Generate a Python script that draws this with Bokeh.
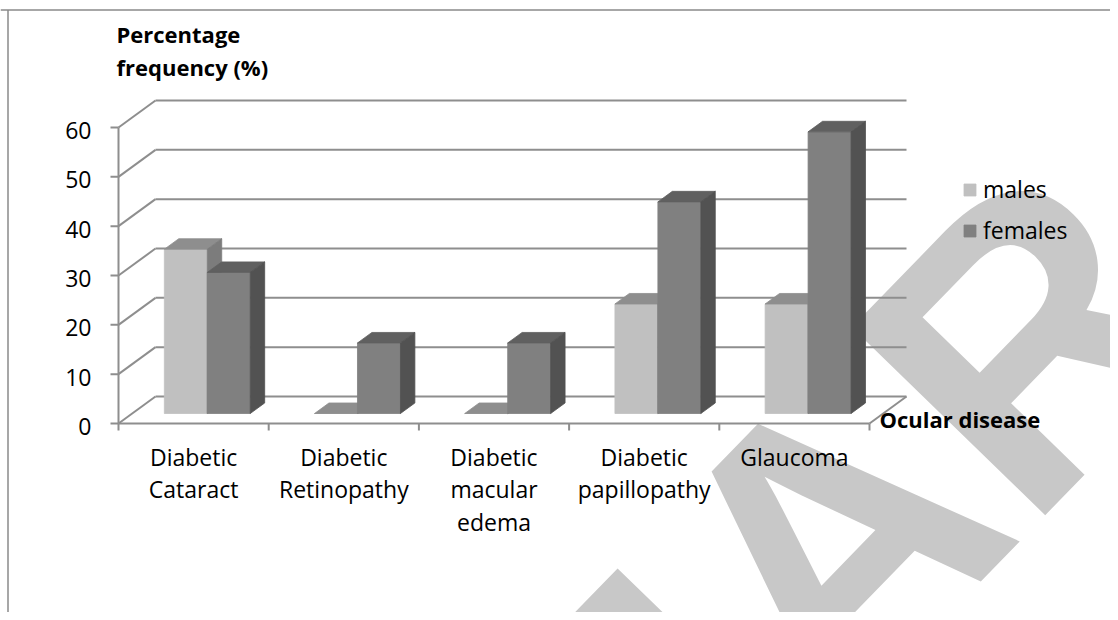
from bokeh.plotting import figure
from bokeh.models import Range1d, Legend, LegendItem, ColumnDataSource
from bokeh.embed import file_html
from bokeh.resources import INLINE
from bokeh.core.properties import value

# ---------------- data ----------------
categories = ["Diabetic\nCataract", "Diabetic\nRetinopathy", "Diabetic\nmacular\nedema",
              "Diabetic\npapillopathy", "Glaucoma"]
males = [33.3, 0, 0, 22.2, 22.2]
females = [28.6, 14.3, 14.3, 42.9, 57.1]
series_names = ["males", "females"]
y_ticks = [0, 10, 20, 30, 40, 50, 60]
y_tick_labels = [str(t) for t in y_ticks]
y_title = "Percentage\nfrequency (%)"
x_title = "Ocular disease"
watermark = "IJAR"

# ---------------- layout constants ----------------
W, H = 1110, 612
ORIG_PX, ORIG_PY = 118, 423        # px of front-left floor corner
CAT_PX = 150.2                     # px per category
VAL_PX = 4.933                     # px per value unit
DX = 37 / CAT_PX                   # full depth offset (data units)
DY = 27 / VAL_PX
D0, D1 = 0.37, 0.76                # bar depth span (fraction of full depth)
BW = 0.286                         # bar width (category units)
GRID = "#8e8e8e"
FONT = "Open Sans"


def px_x(px):
    return (px - ORIG_PX) / CAT_PX


def px_y(py):
    return (ORIG_PY - py) / VAL_PX


p = figure(width=W, height=H, output_backend="svg", toolbar_location=None,
           x_range=Range1d(px_x(0), px_x(W)),
           y_range=Range1d(px_y(H), px_y(0)),
           x_axis_location=None, y_axis_location=None, min_border=0)
p.grid.visible = False
p.outline_line_color = None
p.background_fill_color = "white"

# watermark (behind everything)
p.text(x=[px_x(815)], y=[px_y(556)], text=[watermark], angle=0.80,
       text_font=value("Liberation Sans"), text_font_style="bold",
       text_font_size="392px", text_color="#c8c8c8",
       text_align="center", text_baseline="middle")

# chart-area border (top and left visible)
p.segment(x0=[px_x(0), px_x(7.5)], y0=[px_y(9.5), px_y(9.5)],
          x1=[px_x(W), px_x(7.5)], y1=[px_y(9.5), px_y(H)],
          line_color="#8a8a8a", line_width=1.5)

n = len(categories)
# back wall gridlines
p.segment(x0=[DX] * len(y_ticks), y0=[t + DY for t in y_ticks],
          x1=[n + DX] * len(y_ticks), y1=[t + DY for t in y_ticks],
          line_color=GRID, line_width=2)
# side wall gridlines
p.segment(x0=[0] * len(y_ticks), y0=y_ticks, x1=[DX] * len(y_ticks),
          y1=[t + DY for t in y_ticks], line_color=GRID, line_width=2)
# floor right edge
p.segment(x0=[n], y0=[0], x1=[n + DX], y1=[DY], line_color=GRID, line_width=2)
# axes
p.segment(x0=[0, 0], y0=[0, 0], x1=[n, 0], y1=[0, y_ticks[-1]], line_color=GRID, line_width=2)
p.segment(x0=[0] * len(y_ticks), y0=y_ticks, x1=[-8 / CAT_PX] * len(y_ticks), y1=y_ticks,
          line_color=GRID, line_width=2)
p.segment(x0=list(range(n + 1)), y0=[0] * (n + 1), x1=list(range(n + 1)),
          y1=[-7 / VAL_PX] * (n + 1), line_color=GRID, line_width=2)


def bar_sources(vals, offset):
    fx0, fx1, fb, ft = [], [], [], []
    txs, tys, sxs, sys_ = [], [], [], []
    for i, v in enumerate(vals):
        x0 = i + 0.5 + offset
        x1 = x0 + BW
        fx0.append(x0 + D0 * DX); fx1.append(x1 + D0 * DX)
        fb.append(D0 * DY); ft.append(v + D0 * DY)
        txs.append([x0 + D0 * DX, x1 + D0 * DX, x1 + D1 * DX, x0 + D1 * DX])
        tys.append([v + D0 * DY, v + D0 * DY, v + D1 * DY, v + D1 * DY])
        sxs.append([x1 + D0 * DX, x1 + D1 * DX, x1 + D1 * DX, x1 + D0 * DX])
        sys_.append([D0 * DY, D1 * DY, v + D1 * DY, v + D0 * DY])
    return (ColumnDataSource(dict(left=fx0, right=fx1, bottom=fb, top=ft)),
            ColumnDataSource(dict(xs=txs, ys=tys)),
            ColumnDataSource(dict(xs=sxs, ys=sys_)))


styles = [("#c0c0c0", "#8e8e8e", "#7c7c7c"),   # males: front, top, side
          ("#808080", "#606060", "#525252")]   # females
fronts = []
for vals, off, (cf, ct, cs) in zip([males, females], [-BW, 0.0], styles):
    fsrc, tsrc, ssrc = bar_sources(vals, off)
    r = p.quad(left="left", right="right", bottom="bottom", top="top", source=fsrc,
               fill_color=cf, line_color=cf, line_width=0.8)
    p.patches(xs="xs", ys="ys", source=tsrc, fill_color=ct, line_color=ct, line_width=0.8)
    p.patches(xs="xs", ys="ys", source=ssrc, fill_color=cs, line_color=cs, line_width=0.8)
    fronts.append(r)

# tick labels
p.text(x=[px_x(91)] * len(y_ticks), y=y_ticks, text=y_tick_labels,
       text_font=value(FONT), text_font_size="23px", text_color="black",
       text_align="right", text_baseline="middle", y_offset=3)
# category labels
p.text(x=[i + 0.5 for i in range(n)], y=[px_y(440)] * n, text=categories,
       text_font=value(FONT), text_font_size="23px", text_color="black",
       text_align="center", text_baseline="top", text_line_height=1.02)
# titles
p.text(x=[px_x(116)], y=[px_y(18)], text=[y_title], text_font=value(FONT),
       text_font_size="22px", text_font_style="bold", text_color="black",
       text_align="left", text_baseline="top", text_line_height=1.1)
p.text(x=[px_x(879)], y=[px_y(418)], text=[x_title], text_font=value(FONT),
       text_font_size="22px", text_font_style="bold", text_color="black",
       text_align="left", text_baseline="middle")

legend = Legend(items=[LegendItem(label=series_names[0], renderers=[fronts[0]]),
                       LegendItem(label=series_names[1], renderers=[fronts[1]])],
                location=(962, 366), orientation="vertical",
                glyph_width=15, glyph_height=15, label_height=15, label_standoff=6,
                spacing=9, padding=0, margin=0, border_line_color=None,
                background_fill_alpha=0, label_text_font=FONT, label_text_font_size="23px",
                label_text_color="black")
p.add_layout(legend, "center")

open("out.html", "w").write(file_html(p, INLINE))
